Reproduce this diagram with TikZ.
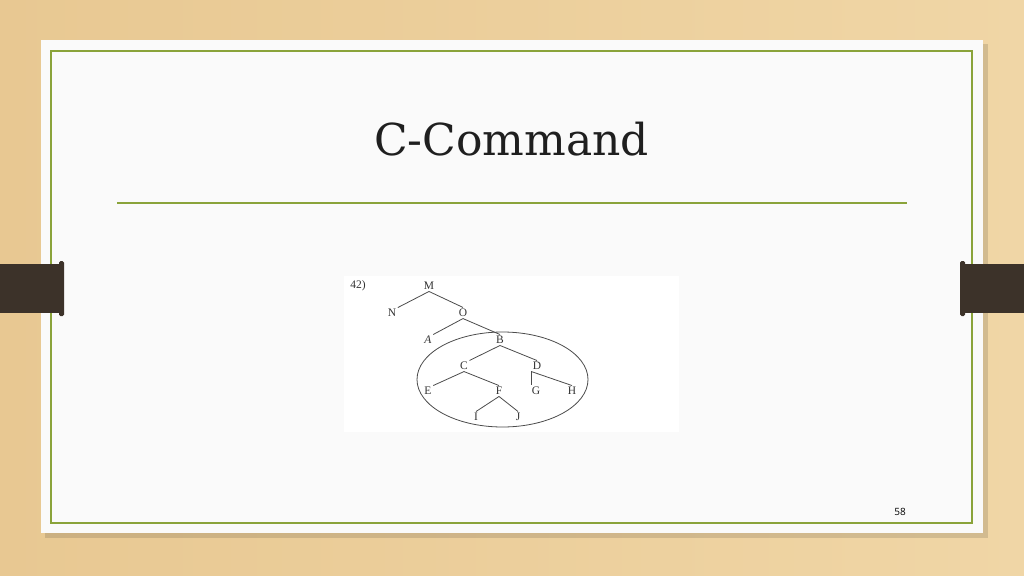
\documentclass[tikz,border=0pt]{standalone}
\usepackage{fontspec}
\setmainfont{Liberation Serif}
\newfontfamily\titlefont{DejaVu Serif}
\newfontfamily\numfont{Open Sans}
\usepackage{tikz}
\usetikzlibrary{calc}
\definecolor{wood}{RGB}{232,200,146}
\definecolor{woodlight}{RGB}{240,214,166}
\definecolor{bar}{RGB}{60,50,41}
\definecolor{frame}{RGB}{138,163,58}
\definecolor{card}{RGB}{250,250,250}
\tikzset{
	leaf/.style={inner sep=1.5pt, font=\fontsize{11.5}{11.5}\selectfont, text=black!80},
	branch/.style={line width=0.8pt, color=black!70},
}

\begin{document}
\begin{tikzpicture}[x=1pt, y=-1pt]
		%%%%% START %%%%%
		\useasboundingbox (0, 0) rectangle (1024, 575);
		
		\shade[left color=wood, right color=woodlight] (0, 0) rectangle (1024, 575);
		\fill[black, opacity=0.12] (45, 44) rectangle (988, 538);
		\fill[card] (41, 40) rectangle (983, 533);
		\draw[line width=1.6pt, color=frame] (51, 51) rectangle (972, 523);
		
		\fill[bar] (0, 264) rectangle (61, 313);
		\fill[bar, rounded corners=1.5pt] (59, 261) rectangle (64, 316);
		\fill[bar] (963, 264) rectangle (1024, 313);
		\fill[bar, rounded corners=1.5pt] (960, 261) rectangle (965, 316);
		
		\node (title) at (511.5, 139) {\titlefont\fontsize{44}{44}\selectfont\color{black!88}C-Command};
		\draw[line width=1.2pt, color=frame] (117, 203) -- (907, 203);
		\node (page) at (900, 512) {\numfont\fontsize{10}{10}\selectfont 58};
		
		\fill[white] (344, 276) rectangle (679, 432);
		\node[leaf] (num) at (358, 286) {42)};
		\node[leaf] (M) at (429, 286) {M};
		\node[leaf] (N) at (392, 313) {N};
		\node[leaf] (O) at (463, 313) {O};
		\node[leaf] (A) at (428, 340) {\itshape A};
		\node[leaf] (B) at (500, 340) {B};
		\node[leaf] (C) at (464, 366) {C};
		\node[leaf] (D) at (537, 366) {D};
		\node[leaf] (E) at (428, 391) {E};
		\node[leaf] (F) at (499, 391) {F};
		\node[leaf] (G) at (536, 391) {G};
		\node[leaf] (H) at (572, 391) {H};
		\node[leaf] (I) at (476, 417) {I};
		\node[leaf] (J) at (518, 417) {J};
		
		\draw[branch] (M.south) -- (N.north east);
		\draw[branch] (M.south) -- (O.north);
		\draw[branch] (O.south) -- (A.north east);
		\draw[branch] (O.south) -- (B.north);
		\draw[branch] (B.south) -- (C.north east);
		\draw[branch] (B.south) -- (D.north);
		\draw[branch] (C.south) -- (E.north east);
		\draw[branch] (C.south) -- (F.north);
		\draw[branch] (D.south west) -- (D.south west |- G.north);
		\draw[branch] (D.south west) -- (H.north);
		\draw[branch] (F.south) -- (I.north);
		\draw[branch] (F.south) -- (J.north);
		
		\draw[line width=0.8pt, color=black!70] (502.5, 379.5) ellipse [x radius=85.5, y radius=47.5];
		%%%%% END %%%%%
\end{tikzpicture}
\end{document}
